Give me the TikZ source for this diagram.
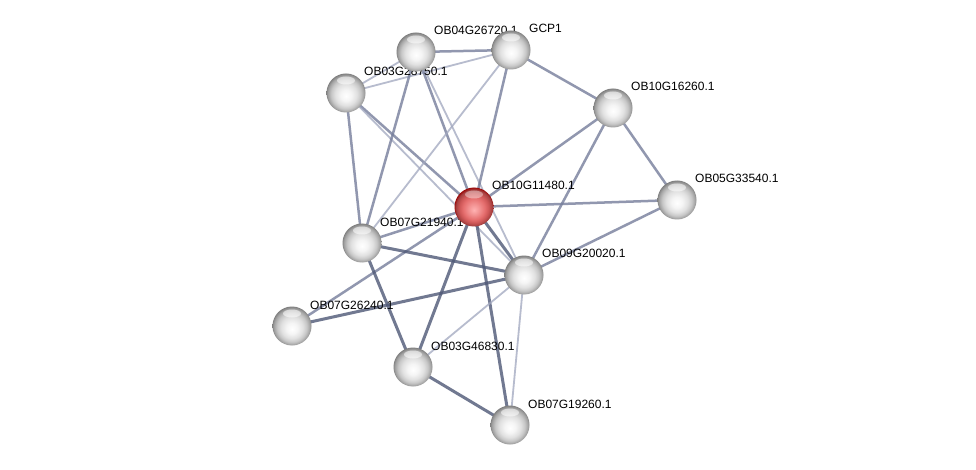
\documentclass[tikz,border=0pt]{standalone}
\usepackage{fontspec}
\setmainfont{Liberation Sans}
\pgfdeclarelayer{edges}
\pgfdeclarelayer{labels}
\pgfsetlayers{edges,labels,main}
\definecolor{edk}{RGB}{78,88,118}
\definecolor{emd}{RGB}{118,126,155}
\definecolor{elt}{RGB}{160,166,190}
\pgfdeclareradialshading{sphgray}{\pgfpoint{0bp}{-4bp}}{%
  color(0bp)=(white); color(7bp)=(black!4); color(14bp)=(black!12);
  color(19bp)=(black!22); color(23bp)=(black!36); color(26bp)=(black!52); color(30bp)=(black!60)}
\pgfdeclareradialshading{sphred}{\pgfpoint{0bp}{-4bp}}{%
  color(0bp)=(red!30!white); color(7bp)=(red!40!white!95!black); color(14bp)=(red!52!white!90!black);
  color(19bp)=(red!58!white!80!black); color(23bp)=(red!60!white!65!black); color(26bp)=(red!60!black); color(30bp)=(red!50!black)}
\begin{document}
\begin{tikzpicture}[x=1pt,y=-1pt,
  prot/.style={circle,minimum size=39pt,inner sep=0pt,shading=sphgray,
    path picture={\fill[white,opacity=0.55] ([yshift=-7pt]path picture bounding box.north) ellipse (9pt and 4pt);}},
  protred/.style={circle,minimum size=39pt,inner sep=0pt,shading=sphred,
    path picture={\fill[white,opacity=0.4] ([yshift=-7pt]path picture bounding box.north) ellipse (9pt and 4pt);}},
  lab/.style={anchor=base west,font=\fontsize{12pt}{13pt}\selectfont,inner sep=0pt},
  edark/.style={draw=edk,line width=3pt,opacity=0.8},
  emed/.style={draw=emd,line width=2.5pt,opacity=0.8},
  elight/.style={draw=elt,line width=1.8pt,opacity=0.75}]
\useasboundingbox (0,0) rectangle (976,470);
% nodes
\node[prot] (a) at (416,52) {};   % OB04G26720.1
\node[prot] (b) at (511,50) {};   % GCP1
\node[prot] (c) at (346,93) {};   % OB03G28750.1
\node[prot] (d) at (613,108) {};  % OB10G16260.1
\node[prot] (e) at (677,200) {};  % OB05G33540.1
\node[protred] (r) at (474,207) {};  % OB10G11480.1
\node[prot] (f) at (362,243) {};  % OB07G21940.1
\node[prot] (g) at (524,275) {};  % OB09G20020.1
\node[prot] (h) at (292,326) {};  % OB07G26240.1
\node[prot] (i) at (413,367) {};  % OB03G46830.1
\node[prot] (j) at (510,425) {};  % OB07G19260.1
\begin{pgfonlayer}{edges}
\fill[white] (0,0) rectangle (976,470);
\draw[emed] (a.center) -- (b.center);
\draw[elight] (c.center) -- (a.center);
\draw[elight] (c.center) -- (b.center);
\draw[emed] (b.center) -- (d.center);
\draw[emed] (c.center) -- (f.center);
\draw[emed] (c.center) -- (r.center);
\draw[elight] (c.center) -- (g.center);
\draw[emed] (a.center) -- (f.center);
\draw[emed] (a.center) -- (r.center);
\draw[elight] (a.center) -- (g.center);
\draw[elight] (b.center) -- (f.center);
\draw[emed] (b.center) -- (r.center);
\draw[emed] (d.center) -- (r.center);
\draw[emed] (d.center) -- (g.center);
\draw[emed] (d.center) -- (e.center);
\draw[emed] (r.center) -- (e.center);
\draw[emed] (g.center) -- (e.center);
\draw[emed] (r.center) -- (f.center);
\draw[edark] (r.center) -- (g.center);
\draw[emed] (r.center) -- (h.center);
\draw[edark] (r.center) -- (i.center);
\draw[edark] (r.center) -- (j.center);
\draw[edark] (f.center) -- (g.center);
\draw[edark] (f.center) -- (i.center);
\draw[edark] (h.center) -- (g.center);
\draw[elight] (g.center) -- (i.center);
\draw[elight] (g.center) -- (j.center);
\draw[edark] (i.center) -- (j.center);
\end{pgfonlayer}
\begin{pgfonlayer}{labels}
\node[lab] (la) at (434,35) {OB04G26720.1};
\node[lab] (lb) at (529,33) {GCP1};
\node[lab] (lc) at (364,76) {OB03G28750.1};
\node[lab] (ld) at (631,91) {OB10G16260.1};
\node[lab] (le) at (695,183) {OB05G33540.1};
\node[lab] (lr) at (492,190) {OB10G11480.1};
\node[lab] (lf) at (380,226) {OB07G21940.1};
\node[lab] (lg) at (542,258) {OB09G20020.1};
\node[lab] (lh) at (310,309) {OB07G26240.1};
\node[lab] (li) at (431,350) {OB03G46830.1};
\node[lab] (lj) at (528,408) {OB07G19260.1};
\end{pgfonlayer}
\end{tikzpicture}
\end{document}
